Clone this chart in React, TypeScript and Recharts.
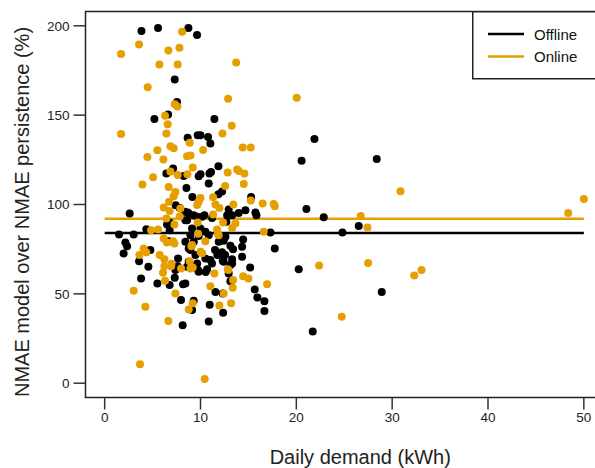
import {
  ComposedChart,
  ReferenceArea,
  ReferenceLine,
  Scatter,
  XAxis,
  YAxis,
} from "recharts";

// [daily demand kWh, NMAE ratio %]
const offlinePoints: [number, number][] = [
  [3.84, 197.1], [5.57, 198.7], [8.74, 198.7], [9.64, 194.8], [7.31, 169.9],
  [7.55, 157.4], [6.62, 150.3], [5.19, 147.8], [11.45, 147.8], [8.66, 137.4],
  [9.71, 138.7], [10.0, 138.7], [10.79, 137.8], [11.03, 134.1], [11.87, 121.4],
  [7.14, 120.1], [6.44, 117.3], [8.25, 116], [9.81, 115.8], [10.0, 116.9],
  [10.93, 117.3], [11.1, 118.2], [8.53, 109.3], [10.86, 111.7], [11.87, 105.8],
  [12.25, 107.3], [9.15, 104.2], [15.28, 104.2], [20.55, 124.5], [21.89, 136.7],
  [28.39, 125.5], [7.41, 99.6], [7.83, 98.1], [8.35, 96], [8.66, 95.5],
  [2.61, 95], [6.51, 88.8], [6.78, 89.9], [8.42, 91.2], [4.35, 86.2],
  [6.78, 85.6], [1.5, 83.2], [3.03, 83.2], [2.16, 78.8], [2.34, 76.7],
  [1.98, 72.6], [6.72, 79.5], [4.77, 74.5], [3.59, 68.3], [7.66, 69.8],
  [8.77, 75.4], [4.56, 65.1], [7.38, 63.3], [7.62, 65.5], [8.6, 65.1],
  [3.8, 58.6], [5.5, 55.8], [6.78, 54.9], [7.31, 59], [8.18, 55.4],
  [7.97, 46.5], [8.14, 32.5], [9.29, 46.1], [9.12, 40.9], [10.86, 34.5],
  [10.96, 43.9], [12.36, 39.4], [11.56, 51.1], [13.12, 57], [15.66, 52.5],
  [15.94, 48], [16.67, 45.8], [16.67, 40.4], [15.18, 64.8], [13.3, 67],
  [13.3, 69.4], [14.34, 70.7], [14.34, 76.3], [14.45, 80.4], [12.32, 68.5],
  [12.57, 71.8], [12.25, 73.3], [11.76, 71.8], [11.52, 74.5], [10.69, 63.7],
  [10.54, 62.2], [9.75, 63.3], [13.12, 76.9], [13.4, 75], [12.42, 79.7],
  [12.07, 79.7], [12.6, 81.9], [14.69, 96.8], [15.73, 95.5], [15.84, 94],
  [13.99, 95.3], [12.94, 97.2], [12.78, 94], [13.3, 94], [10.41, 94],
  [11.21, 92.5], [12.7, 90.3], [17.3, 84.3], [17.75, 75.4], [8.42, 79.1],
  [8.95, 74.5], [9.47, 71.7], [10.51, 69.8], [11.03, 68.9], [9.65, 93.1],
  [10.17, 93.1], [8.77, 95], [9.29, 94], [8.6, 91.2], [9.12, 86.6],
  [9.99, 86.6], [8.95, 82.8], [9.81, 82.4], [9.3, 79.1], [10.51, 84.7],
  [10.86, 82.8], [8.77, 67.9], [9.65, 67], [9.81, 62.3], [11.2, 67],
  [12.42, 67.9], [13.12, 66.1], [13.23, 57.1], [12.32, 50.2], [20.25, 63.8],
  [21.05, 97.5], [22.86, 92.9], [26.51, 87.9], [24.81, 84.3], [28.91, 51.1],
  [21.71, 29], [8.42, 55.8], [12.94, 61.4], [11.9, 79.1], [12.18, 72.6],
];

const onlinePoints: [number, number][] = [
  [8.08, 196.7], [3.59, 189.6], [1.71, 184.2], [6.65, 186.2], [7.8, 187.7],
  [5.71, 178.4], [7.62, 178.4], [13.72, 179.5], [4.49, 165.6], [7.31, 156.1],
  [7.59, 154.9], [12.88, 159.2], [20.04, 159.8], [6.3, 149.7], [6.58, 144.9],
  [13.26, 144.1], [1.71, 139.5], [6.44, 139.7], [12.29, 139.7], [8.87, 134.5],
  [6.86, 132.6], [7.2, 131.5], [14.4, 131.9], [15.24, 131.9], [10.27, 130.5],
  [5.5, 130.4], [4.46, 126.6], [6.13, 125.2], [8.6, 127], [8.95, 127.4],
  [9.19, 120.7], [6.86, 118.4], [7.62, 116.5], [8.63, 116.9], [12.84, 117.9],
  [13.82, 119.6], [14.0, 118.8], [14.58, 117.3], [3.94, 111.2], [5.05, 115.3],
  [6.68, 109.8], [12.57, 110.4], [14.51, 111.5], [7.38, 107], [7.2, 104.6],
  [10.0, 103.7], [11.32, 104.1], [30.87, 107.4], [50.0, 103.1], [48.37, 95.3],
  [6.72, 101.5], [6.16, 98.3], [6.78, 96.3], [7.9, 97.8], [6.44, 92.2],
  [7.83, 93.3], [7.28, 88.8], [4.84, 85.6], [5.57, 86], [6.16, 81],
  [6.51, 78.8], [7.14, 79.5], [7.28, 78.2], [4.07, 75.4], [4.35, 73.2],
  [3.62, 71.7], [5.74, 71.7], [6.23, 69.4], [6.97, 66.8], [6.23, 65.5],
  [6.93, 65.5], [6.09, 61.8], [7.97, 64.2], [6.3, 57.3], [3.03, 51.7],
  [7.38, 50.2], [4.25, 42.8], [8.77, 41.3], [6.65, 34.8], [3.69, 10.6],
  [9.19, 44.7], [10.44, 2.4], [11.97, 43.5], [13.19, 44.7], [11.03, 54.3],
  [12.42, 50.2], [13.36, 53.4], [13.4, 57.7], [14.45, 59.9], [15.0, 58.6],
  [16.95, 55.4], [12.91, 63.4], [11.45, 61.4], [9.81, 101.6], [9.65, 99.7],
  [15.24, 102.2], [16.49, 100.6], [17.64, 100.3], [17.75, 99], [13.43, 100],
  [11.56, 100], [11.97, 98.1], [11.32, 94.4], [13.64, 89.4], [13.3, 86.9],
  [12.36, 89.9], [9.71, 89.9], [11.73, 86], [11.9, 82.8], [16.6, 84.7],
  [10.51, 79.5], [9.12, 77.3], [10.0, 73.5], [10.17, 72.7], [11.8, 83.6],
  [8.95, 64.2], [9.19, 64.8], [12.84, 63.7], [22.38, 65.9], [27.49, 67.2],
  [33.06, 63.3], [32.3, 60.3], [24.74, 37.2], [26.72, 93.6], [27.42, 87.1],
  [9.75, 83.6], [9.05, 76.7], [8.87, 68.3],
];

const offlineMean = 84;
const onlineMean = 92;
const meanSpan: [number, number] = [0, 50];

const xTicks = [0, 10, 20, 30, 40, 50];
const yTicks = [0, 50, 100, 150, 200];

const OFFLINE = "#000000";
const ONLINE = "#E69F00";
const FONT = '"Liberation Sans", Arial, sans-serif';

const toRows = (pts: [number, number][]) => pts.map(([x, y]) => ({ x, y }));

const dot = (color: string) => (props: any) =>
  <circle cx={props.cx} cy={props.cy} r={4} fill={color} />;

function LegendBox() {
  return (
    <svg
      width={130}
      height={70}
      style={{ position: "absolute", left: 472, top: 11, display: "block" }}
    >
      <rect x={0.75} y={0.75} width={150} height={67} fill="#fff" stroke="#222" strokeWidth={1.5} />
      <line x1={16} x2={52} y1={23} y2={23} stroke={OFFLINE} strokeWidth={2.5} />
      <line x1={16} x2={52} y1={45.5} y2={45.5} stroke={ONLINE} strokeWidth={2.5} />
      <text x={62} y={28.5} fontSize={15} fontFamily={FONT} fill="#111">Offline</text>
      <text x={62} y={51} fontSize={15} fontFamily={FONT} fill="#111">Online</text>
    </svg>
  );
}

function YTitle() {
  return (
    <text
      x={29}
      y={212}
      transform="rotate(-90 29 212)"
      textAnchor="middle"
      fontSize={20}
      fontFamily={FONT}
      fill="#222"
    >
      NMAE model over NMAE persistence (%)
    </text>
  );
}

export default function App() {
  const tickStyle = { fontSize: 13.5, fill: "#222", fontFamily: FONT };
  const tickLine = { stroke: "#333", strokeWidth: 1.5 };
  return (
    <div
      style={{
        position: "absolute",
        left: 0,
        top: 0,
        width: 595,
        height: 468,
        overflow: "hidden",
        background: "#fff",
      }}
    >
      <ComposedChart
        width={610}
        height={468}
        margin={{ top: 11.5, right: 7, bottom: 0, left: 0 }}
      >
        <XAxis
          type="number"
          dataKey="x"
          domain={[-2, 52]}
          ticks={xTicks}
          allowDataOverflow
          axisLine={false}
          tickLine={tickLine}
          tickSize={12}
          tickMargin={3}
          tick={tickStyle}
          height={70.5}
          label={{
            value: "Daily demand (kWh)",
            position: "insideBottom",
            offset: 4,
            dx: 16,
            fontSize: 20,
            fill: "#222",
            fontFamily: FONT,
          }}
        />
        <YAxis
          type="number"
          dataKey="y"
          domain={[-8, 208]}
          ticks={yTicks}
          allowDataOverflow
          axisLine={false}
          tickLine={tickLine}
          tickSize={12}
          tickMargin={4}
          tick={tickStyle}
          width={85.5}
          label={{ content: () => <YTitle /> }}
        />
        <ReferenceArea
          x1={-2}
          x2={52}
          y1={-8}
          y2={208}
          fill="none"
          stroke="#222"
          strokeWidth={1.5}
        />
        <Scatter
          name="Offline"
          data={toRows(offlinePoints)}
          shape={dot(OFFLINE)}
          isAnimationActive={false}
        />
        <Scatter
          name="Online"
          data={toRows(onlinePoints)}
          shape={dot(ONLINE)}
          isAnimationActive={false}
        />
        <ReferenceLine
          segment={[
            { x: meanSpan[0], y: offlineMean },
            { x: meanSpan[1], y: offlineMean },
          ]}
          stroke={OFFLINE}
          strokeWidth={2.5}
        />
        <ReferenceLine
          segment={[
            { x: meanSpan[0], y: onlineMean },
            { x: meanSpan[1], y: onlineMean },
          ]}
          stroke={ONLINE}
          strokeWidth={2.5}
        />
      </ComposedChart>
      <LegendBox />
    </div>
  );
}
